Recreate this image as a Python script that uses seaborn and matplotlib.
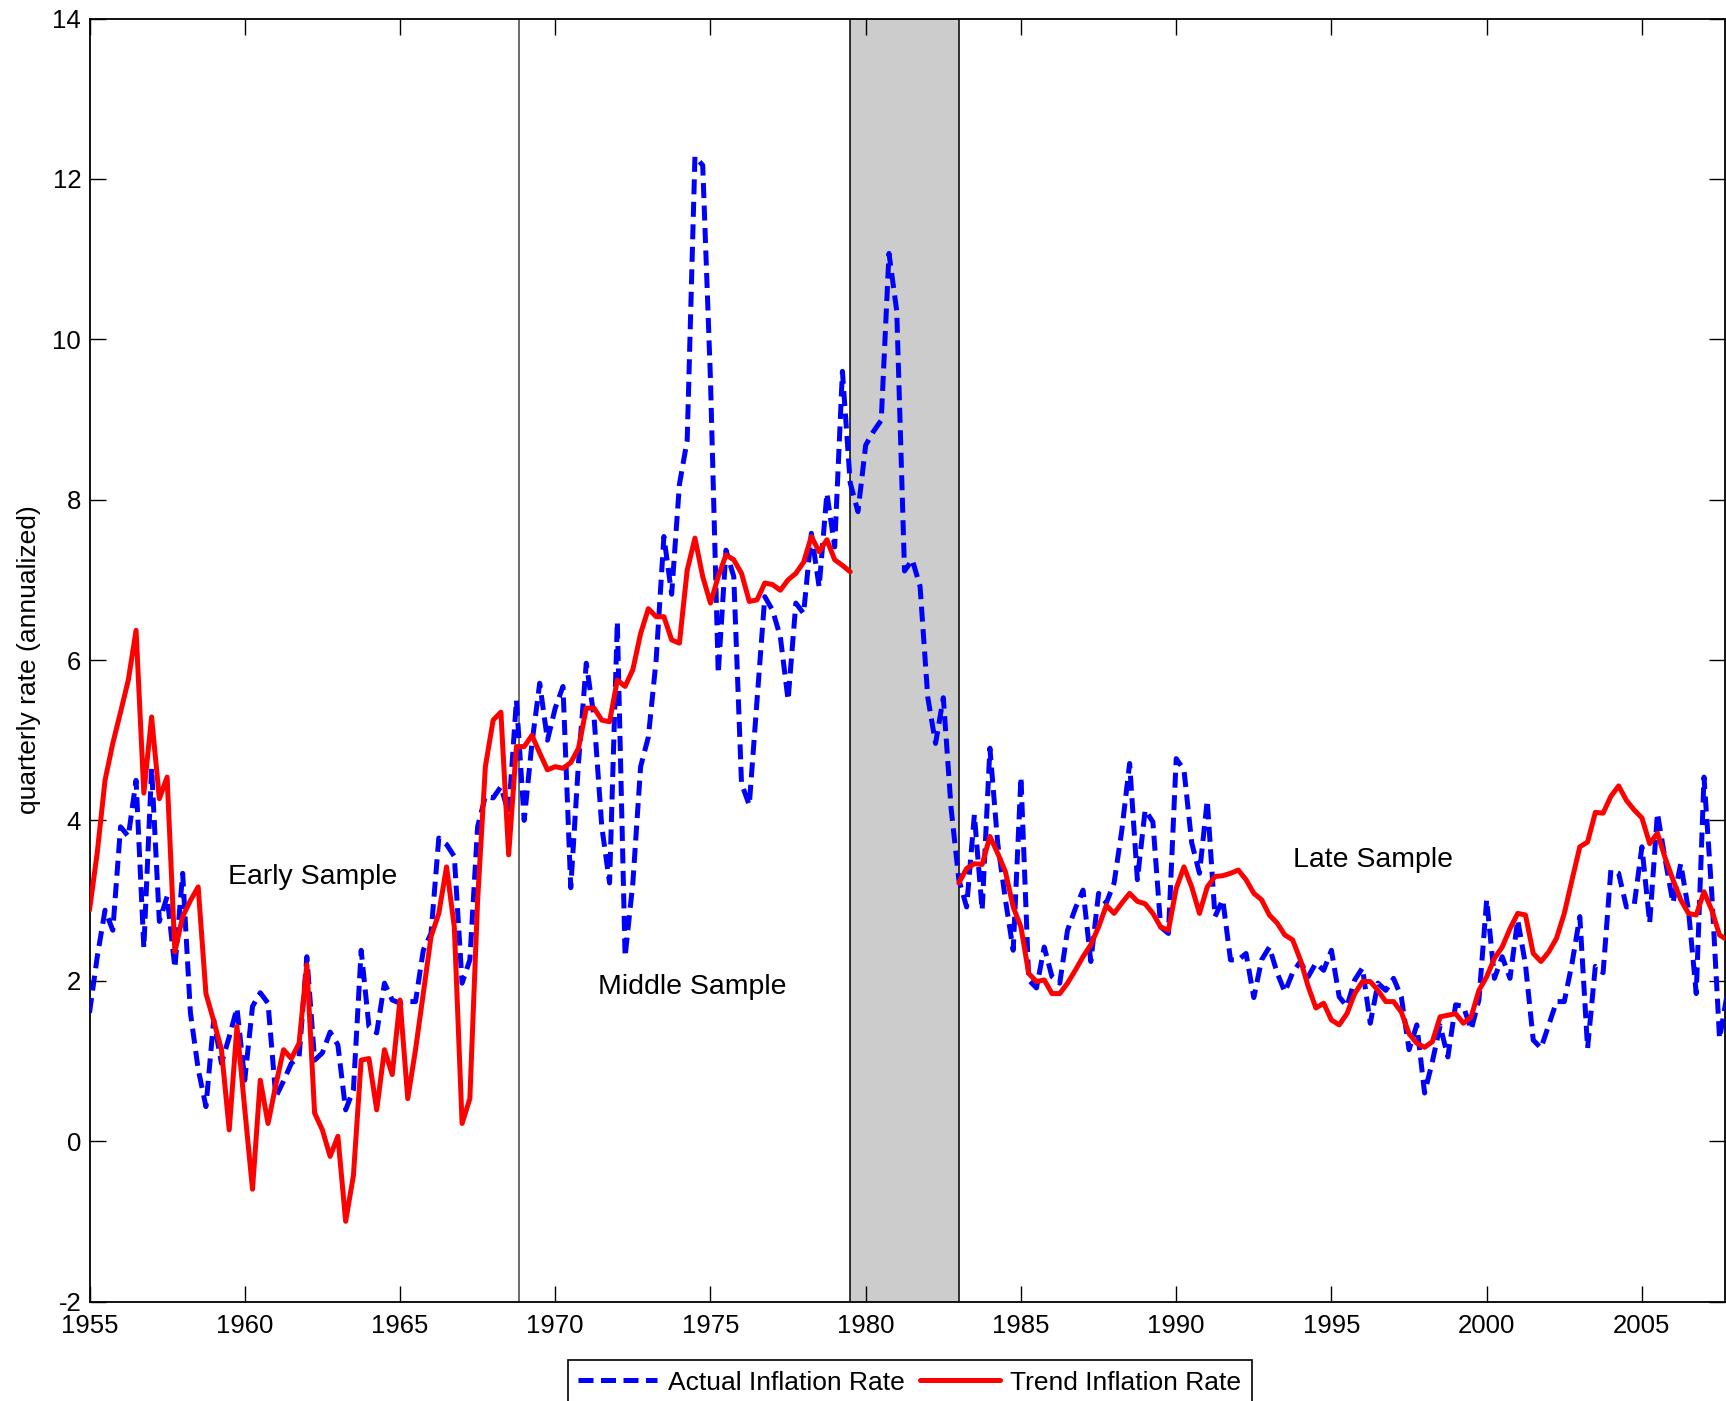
import numpy as np
import pandas as pd
import matplotlib
matplotlib.use("Agg")
import matplotlib.pyplot as plt
from matplotlib.lines import Line2D
import seaborn as sns

# quarterly inflation, annualized; first value = 1955Q1
actual = [
    1.60, 2.30, 2.88, 2.63,   # 1955
    3.92, 3.80, 4.50, 2.41,   # 1956
    4.65, 2.74, 3.05, 2.16,   # 1957
    3.34, 1.60, 0.90, 0.43,   # 1958
    1.51, 0.97, 1.30, 1.66,   # 1959
    0.76, 1.68, 1.85, 1.72,   # 1960
    0.55, 0.75, 0.97, 1.05,   # 1961
    2.30, 1.01, 1.10, 1.36,   # 1962
    1.20, 0.39, 0.64, 2.38,   # 1963
    1.43, 1.35, 1.97, 1.76,   # 1964
    1.72, 1.74, 1.74, 2.38,   # 1965
    2.59, 3.78, 3.70, 3.55,   # 1966
    1.97, 2.26, 3.92, 4.30,   # 1967
    4.28, 4.42, 4.09, 5.50,   # 1968
    4.00, 4.96, 5.71, 5.00,   # 1969
    5.40, 5.67, 3.16, 4.72,   # 1970
    5.96, 5.29, 3.92, 3.22,   # 1971
    6.48, 2.30, 3.22, 4.67,   # 1972
    5.04, 6.00, 7.54, 6.82,   # 1973
    8.19, 8.74, 12.28, 12.17, # 1974
    9.50, 5.83, 7.37, 7.04,   # 1975
    4.46, 4.19, 5.50, 6.79,   # 1976
    6.62, 6.29, 5.50, 6.71,   # 1977
    6.58, 7.58, 6.91, 8.08,   # 1978
    7.41, 9.60, 8.21, 7.85,   # 1979
    8.68, 8.85, 8.99, 11.07,  # 1980
    10.35, 7.11, 7.25, 6.92,  # 1981
    5.53, 4.96, 5.53, 4.15,   # 1982
    3.26, 2.92, 4.07, 2.88,   # 1983
    4.90, 3.72, 3.01, 2.38,   # 1984
    4.54, 2.01, 1.91, 2.42,   # 1985
    2.05, 1.97, 2.63, 2.90,   # 1986
    3.13, 2.24, 3.09, 2.97,   # 1987
    3.22, 3.88, 4.71, 3.26,   # 1988
    4.13, 3.98, 2.67, 2.59,   # 1989
    4.77, 4.63, 3.72, 3.34,   # 1990
    4.25, 2.80, 3.01, 2.26,   # 1991
    2.26, 2.34, 1.79, 2.26,   # 1992
    2.42, 2.10, 1.86, 2.10,   # 1993
    2.24, 2.05, 2.22, 2.13,   # 1994
    2.38, 1.80, 1.68, 2.01,   # 1995
    2.16, 1.47, 1.97, 1.88,   # 1996
    2.03, 1.80, 1.14, 1.45,   # 1997
    0.60, 0.99, 1.44, 1.05,   # 1998
    1.70, 1.68, 1.39, 1.76,   # 1999
    3.01, 2.03, 2.30, 2.03,   # 2000
    2.76, 2.20, 1.26, 1.16,   # 2001
    1.45, 1.74, 1.74, 2.22,   # 2002
    2.80, 1.16, 2.18, 2.10,   # 2003
    3.38, 3.34, 2.92, 2.94,   # 2004
    3.67, 2.72, 4.09, 3.51,   # 2005
    2.97, 3.46, 2.88, 1.84,   # 2006
    4.54, 3.09, 1.28, 1.84,   # 2007
]

# trend estimate, early + middle sample: 1955Q1 - 1979Q3
trend_early = [
    2.88, 3.60, 4.50, 4.96,   # 1955
    5.35, 5.75, 6.37, 4.34,   # 1956
    5.29, 4.27, 4.54, 2.36,   # 1957
    2.80, 3.00, 3.17, 1.84,   # 1958
    1.50, 1.14, 0.14, 1.43,   # 1959
    0.40, -0.60, 0.76, 0.22,  # 1960
    0.70, 1.14, 1.03, 1.22,   # 1961
    2.20, 0.35, 0.14, -0.19,  # 1962
    0.06, -1.00, -0.43, 1.01, # 1963
    1.03, 0.39, 1.14, 0.83,   # 1964
    1.76, 0.53, 1.14, 1.84,   # 1965
    2.55, 2.84, 3.42, 2.67,   # 1966
    0.22, 0.53, 3.00, 4.67,   # 1967
    5.25, 5.35, 3.57, 4.92,   # 1968
    4.92, 5.06, 4.84, 4.63,   # 1969
    4.67, 4.65, 4.72, 4.90,   # 1970
    5.40, 5.40, 5.25, 5.23,   # 1971
    5.75, 5.67, 5.88, 6.33,   # 1972
    6.64, 6.54, 6.54, 6.25,   # 1973
    6.21, 7.12, 7.52, 7.04,   # 1974
    6.71, 7.04, 7.31, 7.25,   # 1975
    7.08, 6.73, 6.75, 6.96,   # 1976
    6.94, 6.87, 7.00, 7.08,   # 1977
    7.22, 7.54, 7.35, 7.50,   # 1978
    7.25, 7.18, 7.10,         # 1979
]

# trend estimate, late sample: 1983Q1 - 2007Q4
trend_late = [
    3.22, 3.40, 3.46, 3.45,   # 1983
    3.80, 3.59, 3.36, 2.92,   # 1984
    2.67, 2.09, 1.99, 2.01,   # 1985
    1.84, 1.84, 1.97, 2.13,   # 1986
    2.30, 2.45, 2.67, 2.94,   # 1987
    2.84, 2.97, 3.09, 2.99,   # 1988
    2.96, 2.84, 2.67, 2.63,   # 1989
    3.15, 3.42, 3.17, 2.84,   # 1990
    3.17, 3.30, 3.31, 3.34,   # 1991
    3.38, 3.26, 3.09, 3.01,   # 1992
    2.82, 2.72, 2.57, 2.51,   # 1993
    2.26, 1.93, 1.66, 1.72,   # 1994
    1.51, 1.45, 1.59, 1.84,   # 1995
    1.99, 1.99, 1.88, 1.74,   # 1996
    1.74, 1.61, 1.34, 1.22,   # 1997
    1.17, 1.24, 1.55, 1.57,   # 1998
    1.59, 1.47, 1.55, 1.88,   # 1999
    2.05, 2.28, 2.42, 2.65,   # 2000
    2.84, 2.82, 2.34, 2.24,   # 2001
    2.36, 2.53, 2.84, 3.26,   # 2002
    3.67, 3.73, 4.10, 4.09,   # 2003
    4.30, 4.43, 4.25, 4.13,   # 2004
    4.03, 3.71, 3.84, 3.53,   # 2005
    3.26, 3.01, 2.84, 2.82,   # 2006
    3.11, 2.88, 2.57, 2.51,   # 2007
]

sample_breaks = [1968.83]
excluded = (1979.5, 1983.0)
sample_labels = ["Early Sample", "Middle Sample", "Late Sample"]
label_pos = [(1962.2, 3.29), (1974.4, 1.92), (1996.35, 3.50)]

df_act = pd.DataFrame({"date": 1955.0 + np.arange(len(actual)) / 4, "rate": actual})
df_tr1 = pd.DataFrame({"date": 1955.0 + np.arange(len(trend_early)) / 4, "rate": trend_early})
df_tr2 = pd.DataFrame({"date": 1983.0 + np.arange(len(trend_late)) / 4, "rate": trend_late})

sns.set_style("ticks")
plt.rcParams["font.family"] = ["Liberation Sans", "DejaVu Sans"]
plt.rcParams["axes.unicode_minus"] = False
plt.rcParams["text.color"] = "black"
plt.rcParams["axes.labelcolor"] = "black"

W, H = 1726, 1401
fig = plt.figure(figsize=(W / 100, H / 100), dpi=100)
ax = fig.add_axes([89.5 / W, (H - 1301.5) / H, (1724.5 - 89.5) / W, (1301.5 - 18.5) / H])

ax.axvspan(*excluded, color="#cccccc", zorder=0, lw=0)
for xv in excluded:
    ax.axvline(xv, color="black", lw=1.1, zorder=1)
for xv in sample_breaks:
    ax.axvline(xv, color="#444444", lw=1.1, zorder=1)

blue_dash = (3, 1.5)
sns.lineplot(data=df_act, x="date", y="rate", ax=ax, color="#0000ff", lw=3.6, zorder=3)
ax.lines[-1].set_dashes(blue_dash)
sns.lineplot(data=df_tr1, x="date", y="rate", ax=ax, color="#ff0000", lw=3.6, zorder=4)
sns.lineplot(data=df_tr2, x="date", y="rate", ax=ax, color="#ff0000", lw=3.6, zorder=4)

for txt, (xx, yy) in zip(sample_labels, label_pos):
    ax.text(xx, yy, txt, fontsize=20.5, ha="center", va="center", color="black")

ax.set_xlim(1955, 2007.66)
ax.set_ylim(-2, 14)
ax.set_xticks(np.arange(1955, 2006, 5))
ax.set_yticks(np.arange(-2, 15, 2))
ax.tick_params(direction="in", length=11.5, width=1, top=True, right=True,
               labelsize=18.5, colors="black")
ax.tick_params(axis="x", pad=9)
ax.tick_params(axis="y", pad=6)
for s in ax.spines.values():
    s.set_color("black")
    s.set_linewidth(1.3)

ax.set_xlabel("")
ax.set_ylabel("quarterly rate (annualized)", fontsize=19)
ax.yaxis.set_label_coords((41 - 89.5) / (1724.5 - 89.5), 0.5)

handles = [
    Line2D([], [], color="#0000ff", lw=3.6, dashes=blue_dash),
    Line2D([], [], color="#ff0000", lw=3.6),
]
leg = fig.legend(handles, ["Actual Inflation Rate", "Trend Inflation Rate"],
                 loc="upper center", bbox_to_anchor=(0.527, 1 - 1360 / H),
                 ncol=2, fontsize=19, frameon=True, fancybox=False,
                 edgecolor="black", framealpha=1, handlelength=3.0,
                 handletextpad=0.4, columnspacing=0.6, borderpad=0.4,
                 borderaxespad=0)
leg.get_frame().set_linewidth(1.2)

fig.savefig("out.png", dpi=100)
